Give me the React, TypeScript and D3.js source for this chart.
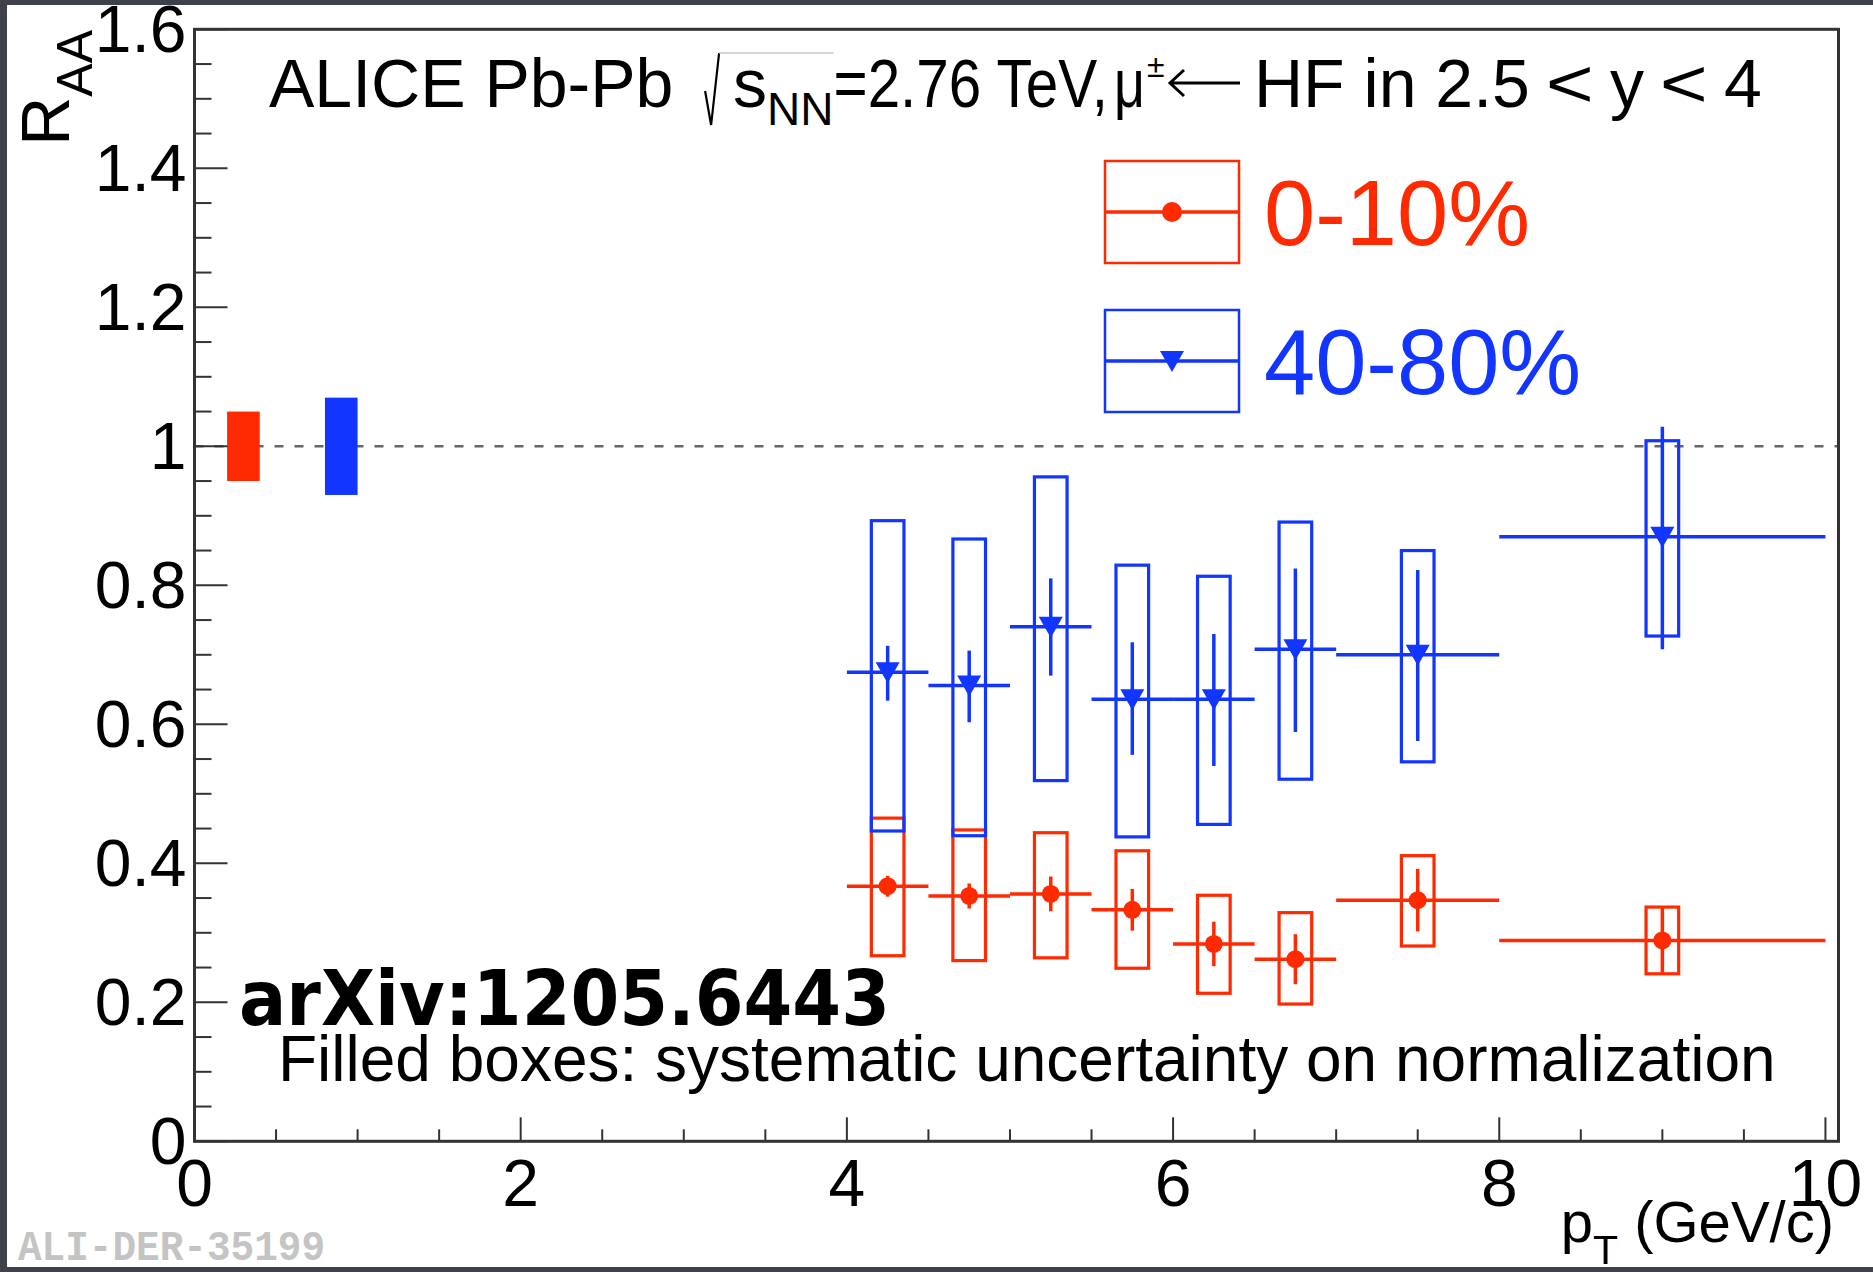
import React, { useMemo } from 'react';
import * as d3 from 'd3';

// ---------- data ----------
const ptCenters = [4.25, 4.75, 5.25, 5.75, 6.25, 6.75, 7.5, 9];
const binLow = [4, 4.5, 5, 5.5, 6, 6.5, 7, 8];
const binHigh = [4.5, 5, 5.5, 6, 6.5, 7, 8, 10];

// 0-10% centrality
const central = [0.367, 0.353, 0.356, 0.333, 0.284, 0.262, 0.347, 0.289];
const centralStat = [0.015, 0.018, 0.025, 0.03, 0.032, 0.036, 0.045, 0.047];
const centralSysLow = [0.267, 0.26, 0.264, 0.249, 0.213, 0.1975, 0.281, 0.241];
const centralSysHigh = [0.465, 0.448, 0.444, 0.418, 0.354, 0.329, 0.411, 0.337];

// 40-80% centrality
const peripheral = [0.675, 0.656, 0.7405, 0.636, 0.636, 0.708, 0.7, 0.87];
const peripheralStatLow = [0.634, 0.603, 0.67, 0.556, 0.54, 0.589, 0.576, 0.708];
const peripheralStatHigh = [0.713, 0.706, 0.81, 0.718, 0.73, 0.824, 0.822, 1.028];
const peripheralSysLow = [0.4465, 0.4397, 0.519, 0.438, 0.456, 0.521, 0.546, 0.727];
const peripheralSysHigh = [0.893, 0.8666, 0.956, 0.829, 0.813, 0.891, 0.85, 1.008];

// normalization uncertainty boxes (drawn at low pT)
const normUnc = [0.05, 0.07];
const normBoxX = [[0.2, 0.4], [0.8, 1.0]];

const sysBoxHalfWidth = 0.1;

const yTickValues = [0, 0.2, 0.4, 0.6, 0.8, 1, 1.2, 1.4, 1.6];
const yTickLabels = ['0', '0.2', '0.4', '0.6', '0.8', '1', '1.2', '1.4', '1.6'];
const xTickValues = [0, 2, 4, 6, 8, 10];
const xTickLabels = ['0', '2', '4', '6', '8', '10'];

const legendLabels = ['0-10%', '40-80%'];

// ---------- style ----------
const W = 1873;
const H = 1272;
const RED = '#ff2a00';
const BLUE = '#1236ff';
const FONT = '"Liberation Sans", Arial, Helvetica, sans-serif';
const AXIS = '#333';

function makeMeasure() {
  const c = typeof document !== 'undefined' ? document.createElement('canvas') : null;
  const ctx = c ? c.getContext('2d') : null;
  return (t: string, size: number) => {
    if (!ctx) return t.length * size * 0.55;
    ctx.font = `${size}px "Liberation Sans"`;
    return ctx.measureText(t).width;
  };
}

export default function App() {
  const x = d3.scaleLinear().domain([0, 10.08]).range([194.5, 1838.5]);
  const y = d3.scaleLinear().domain([0, 1.6]).range([1141.3, 29.3]);

  const measure = useMemo(() => makeMeasure(), []);

  const yMinor = d3.range(0, 1.6001, 0.05).filter((v) => Math.abs(v / 0.2 - Math.round(v / 0.2)) > 1e-6);
  const xMinor = d3.range(0, 10.001, 0.5).filter((v) => Math.abs(v / 2 - Math.round(v / 2)) > 1e-6);

  const tri = (cx: number, cy: number, s = 1) =>
    `M${cx - 12 * s},${cy - 10 * s}L${cx + 12 * s},${cy - 10 * s}L${cx},${cy + 11 * s}Z`;

  // title layout
  const TS = 68;
  const t0 = 269;
  const base = 107;
  const p1 = 'ALICE Pb-Pb ';
  const xSqrt = t0 + measure(p1, TS);
  const xS = xSqrt + 0.6 * TS;
  const xNN = xS + measure('s', TS);
  const xEq = xNN + measure('NN', 46);
  const xMu = 1114;
  const muW = 31;
  const xPm = 1147;
  const xArr0 = 1170;
  const xArr1 = 1240;
  const xHF = 1254;
  const arrY = base - 24;
  const gap = 16;
  const ltW = 48;
  const xLt1 = xHF + measure('HF in 2.5', TS) + gap;
  const xY = xLt1 + ltW + gap;
  const xLt2 = xY + measure('y', TS) + gap;
  const x4 = xLt2 + ltW + gap;

  const frameL = x(0);
  const frameR = x(10.08);
  const frameT = y(1.6);
  const frameB = y(0);

  return (
    <svg width={W} height={H} style={{ position: 'absolute', left: 0, top: 0, background: '#fff' }}>
      <rect x={0} y={0} width={W} height={H} fill="#fff" />
      {/* dark border */}
      <rect x={0} y={0} width={W} height={5} fill="#3e4149" />
      <rect x={0} y={0} width={7} height={H} fill="#3e4149" />
      <rect x={0} y={1267} width={W} height={5} fill="#3e4149" />

      {/* dashed line at 1 */}
      <line x1={frameL} x2={frameR} y1={y(1)} y2={y(1)} stroke="#666" strokeWidth={2.5} strokeDasharray="9 11" />

      {/* normalization boxes */}
      {normUnc.map((u, i) => (
        <rect
          key={'n' + i}
          x={x(normBoxX[i][0])}
          y={y(1 + u)}
          width={x(normBoxX[i][1]) - x(normBoxX[i][0])}
          height={y(1 - u) - y(1 + u)}
          fill={i === 0 ? RED : BLUE}
        />
      ))}

      {/* 0-10% */}
      <g stroke={RED} fill="none" strokeWidth={3.5}>
        {ptCenters.map((p, i) => (
          <g key={'c' + i}>
            <rect
              x={x(p - sysBoxHalfWidth)}
              y={y(centralSysHigh[i])}
              width={x(p + sysBoxHalfWidth) - x(p - sysBoxHalfWidth)}
              height={y(centralSysLow[i]) - y(centralSysHigh[i])}
              strokeWidth={3.2}
            />
            <line x1={x(binLow[i])} x2={x(binHigh[i])} y1={y(central[i])} y2={y(central[i])} />
            <line x1={x(p)} x2={x(p)} y1={y(central[i] + centralStat[i])} y2={y(central[i] - centralStat[i])} />
            <circle cx={x(p)} cy={y(central[i])} r={9} fill={RED} stroke="none" />
          </g>
        ))}
      </g>

      {/* 40-80% */}
      <g stroke={BLUE} fill="none" strokeWidth={3.5}>
        {ptCenters.map((p, i) => (
          <g key={'p' + i}>
            <rect
              x={x(p - sysBoxHalfWidth)}
              y={y(peripheralSysHigh[i])}
              width={x(p + sysBoxHalfWidth) - x(p - sysBoxHalfWidth)}
              height={y(peripheralSysLow[i]) - y(peripheralSysHigh[i])}
              strokeWidth={3.2}
            />
            <line x1={x(binLow[i])} x2={x(binHigh[i])} y1={y(peripheral[i])} y2={y(peripheral[i])} />
            <line x1={x(p)} x2={x(p)} y1={y(peripheralStatHigh[i])} y2={y(peripheralStatLow[i])} />
            <path d={tri(x(p), y(peripheral[i]))} fill={BLUE} stroke="none" />
          </g>
        ))}
      </g>

      {/* frame */}
      <rect x={frameL} y={frameT} width={frameR - frameL} height={frameB - frameT} fill="none" stroke={AXIS} strokeWidth={3} />

      {/* ticks */}
      <g stroke={AXIS} strokeWidth={2}>
        {yTickValues.map((v) => (
          <line key={'ym' + v} x1={frameL} x2={frameL + 33} y1={y(v)} y2={y(v)} />
        ))}
        {yMinor.map((v) => (
          <line key={'yn' + v} x1={frameL} x2={frameL + 17} y1={y(v)} y2={y(v)} />
        ))}
        {xTickValues.map((v) => (
          <line key={'xm' + v} x1={x(v)} x2={x(v)} y1={frameB} y2={frameB - 24} />
        ))}
        {xMinor.map((v) => (
          <line key={'xn' + v} x1={x(v)} x2={x(v)} y1={frameB} y2={frameB - 12} />
        ))}
      </g>

      {/* tick labels */}
      <g fontFamily={FONT} fontSize={66} fill="#000">
        {yTickValues.map((v, i) => (
          <text key={'yl' + v} x={frameL - 8} y={y(v) + 23} textAnchor="end">
            {yTickLabels[i]}
          </text>
        ))}
        {xTickValues.map((v, i) => (
          <text key={'xl' + v} x={x(v)} y={1206} textAnchor="middle">
            {xTickLabels[i]}
          </text>
        ))}
      </g>

      {/* axis titles */}
      <text transform="translate(69,30) rotate(-90)" textAnchor="end" fontFamily={FONT} fontSize={68}>
        R<tspan fontSize={50} dy={23}>AA</tspan>
      </text>
      <text x={1834} y={1242} textAnchor="end" fontFamily={FONT} fontSize={58}>
        p<tspan fontSize={41} dy={22}>T</tspan>
        <tspan dy={-22}> (GeV/c)</tspan>
      </text>

      {/* title */}
      <g fontFamily={FONT} fill="#000">
        <text x={t0} y={base} fontSize={TS}>{p1}</text>
        <path
          d={`M${xS - 28},${base - 16} L${xS - 22},${base + 18} L${xS - 14},${base - 54}`}
          stroke="#000"
          strokeWidth={2.2}
          fill="none"
        />
        <line x1={xS - 14} x2={xEq} y1={base - 54} y2={base - 54} stroke="#c8c8c8" strokeWidth={1.5} />
        <text x={xS} y={base} fontSize={TS}>s</text>
        <text x={xNN} y={base + 18} fontSize={46}>NN</text>
        <text x={xEq} y={base} fontSize={TS} textLength={xMu - xEq - 6} lengthAdjust="spacingAndGlyphs">
          =2.76 TeV,
        </text>
        <text x={xMu} y={base} fontSize={TS} textLength={muW} lengthAdjust="spacingAndGlyphs">{'\u03bc'}</text>
        <text x={xPm} y={base - 30} fontSize={32}>{'\u00b1'}</text>
        <path
          d={`M${xArr0},${arrY} L${xArr1},${arrY} M${xArr0 + 14},${arrY - 13} L${xArr0},${arrY} L${xArr0 + 14},${arrY + 13}`}
          stroke="#000"
          strokeWidth={3}
          fill="none"
        />
        <text x={xHF} y={base} fontSize={TS}>HF in 2.5</text>
        <text x={xLt1} y={base} fontSize={TS} textLength={ltW} lengthAdjust="spacingAndGlyphs">{'<'}</text>
        <text x={xY} y={base} fontSize={TS}>y</text>
        <text x={xLt2} y={base} fontSize={TS} textLength={ltW} lengthAdjust="spacingAndGlyphs">{'<'}</text>
        <text x={x4} y={base} fontSize={TS}>4</text>
      </g>

      {/* legend */}
      {legendLabels.map((lab, i) => {
        const top = i === 0 ? 161 : 310;
        const cy = top + 51;
        const col = i === 0 ? RED : BLUE;
        return (
          <g key={'lg' + i}>
            <rect x={1105} y={top} width={134} height={102} fill="none" stroke={col} strokeWidth={2.5} />
            <line x1={1105} x2={1239} y1={cy} y2={cy} stroke={col} strokeWidth={3.5} />
            {i === 0 ? (
              <circle cx={1172} cy={cy} r={10} fill={col} />
            ) : (
              <path d={tri(1172, cy)} fill={col} />
            )}
            <text x={1264} y={cy + 33} fontFamily={FONT} fontSize={92} fill={col}>
              {lab}
            </text>
          </g>
        );
      })}

      {/* annotations */}
      <text
        x={239}
        y={1025}
        fontFamily='"Comic Sans MS", "DejaVu Sans", sans-serif'
        fontWeight="bold"
        fontSize={76}
        textLength={651}
        lengthAdjust="spacingAndGlyphs"
        fill="#000"
      >
        arXiv:1205.6443
      </text>
      <text x={278} y={1081} fontFamily={FONT} fontSize={64} fill="#000">
        Filled boxes: systematic uncertainty on normalization
      </text>
      <text
        x={18}
        y={1260}
        fontFamily='"Liberation Mono", "DejaVu Sans Mono", monospace'
        fontWeight="bold"
        fontSize={42}
        textLength={307}
        lengthAdjust="spacingAndGlyphs"
        fill="#c4c4c4"
      >
        ALI-DER-35199
      </text>
    </svg>
  );
}
